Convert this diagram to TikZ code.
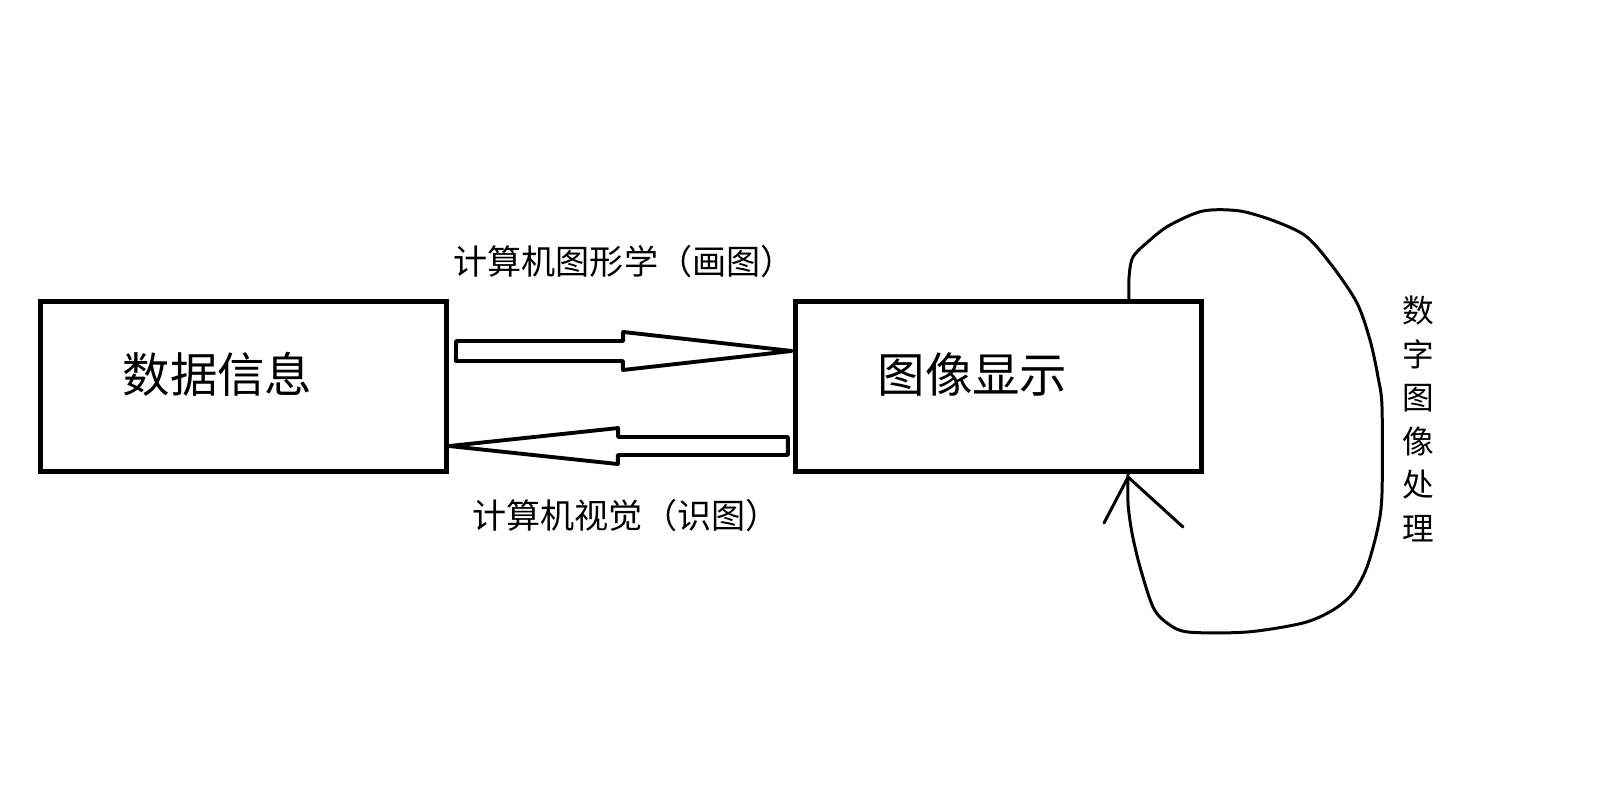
\documentclass[tikz,border=0pt]{standalone}
\usepackage{fontspec}
\newfontfamily\cjk{Noto Sans CJK SC}
\usetikzlibrary{positioning}

\begin{document}
\begin{tikzpicture}[x=0.01cm, y=-0.01cm,
        block/.style={rectangle, draw, line width=1.4pt, minimum width=4.05cm, minimum height=1.69cm, inner sep=0pt, outer sep=0pt},
        bigtext/.style={font=\cjk\fontsize{13.5pt}{16pt}\selectfont, inner sep=0pt},
        note/.style={font=\cjk\fontsize{9.7pt}{12pt}\selectfont, inner sep=0pt},
        fat/.style={draw, line width=1.1pt, line join=round},
        loopline/.style={draw, line width=0.85pt, line join=round, line cap=round}
    ]
        \useasboundingbox (0,0) rectangle (1600,800);

        \node[block] (data) at (243.5,386.5) {};
        \node[block] (show) at (998.5,386.5) {};
        \node[bigtext] (datatxt) at ([xshift=-0.26cm, yshift=0.125cm]data.center) {数据信息};
        \node[bigtext] (showtxt) at ([xshift=-0.26cm, yshift=0.125cm]show.center) {图像显示};

        \draw[fat] ([xshift=0.1cm, yshift=0.455cm]data.east) -- ++(167,0) -- ++(0,-9)
            -- ([xshift=-0.04cm, yshift=0.355cm]show.west) -- ++(-169,19) -- ++(0,-9) -- ++(-167,0) -- cycle;
        \draw[fat] ([xshift=0.03cm, yshift=-0.595cm]data.east) -- ++(169,-18) -- ++(0,9)
            -- ([xshift=-0.08cm, yshift=-0.505cm]show.west) -- ++(0,18) -- ++(-170,0) -- ++(0,9) -- cycle;

        \node[note] (cg) at (624,262) {计算机图形学（画图）};
        \node[note] (cv) at (626,515.5) {计算机视觉（识图）};

        \coordinate (lstart) at ([xshift=-0.72cm]show.north east);
        \coordinate (lend) at ([xshift=-0.73cm]show.south east);
        \draw[loopline] plot[smooth, tension=0.5] coordinates {(lstart) (1129,278) (1133,257) (1150,240) (1170,225)
            (1203,211) (1240,211) (1277,222) (1307,237) (1333,267) (1357,303) (1370,340) (1378,377) (1382,407)
            (1382,493) (1378,527) (1367,567) (1353,593) (1333,610) (1303,623) (1247,632) (1188,632) (1167,623)
            (1153,607) (1140,567) (1132,533) (1128,503) (lend)};
        \draw[loopline] (1104,523) -- ([yshift=-0.06cm]lend) -- (1183,527);

        \node[note, font=\cjk\fontsize{9pt}{12.35pt}\selectfont, align=center] (dip) at (1418,419) {数\\字\\图\\像\\处\\理};
    \end{tikzpicture}
\end{document}
